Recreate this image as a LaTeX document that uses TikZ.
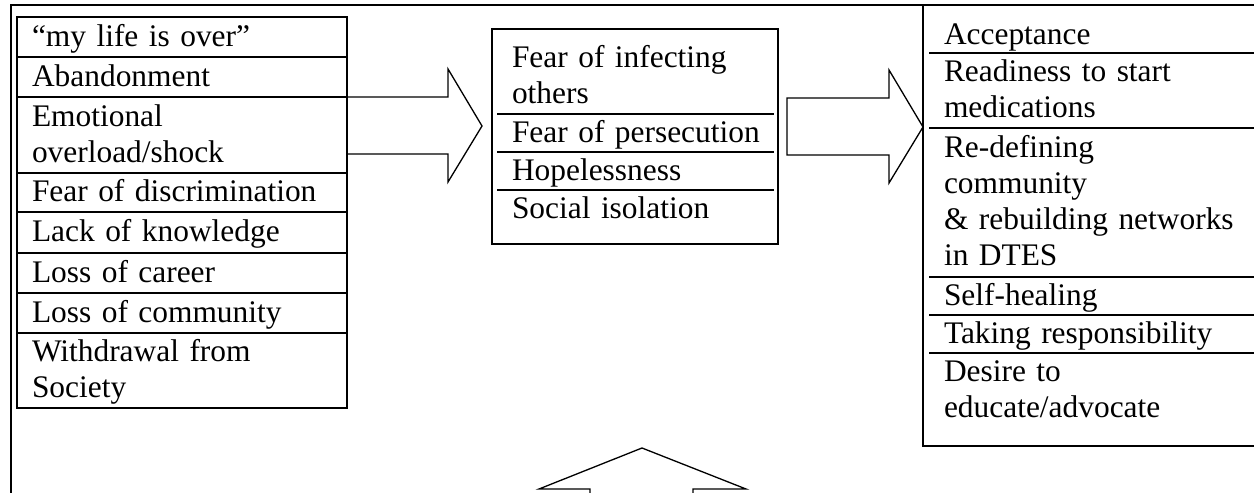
\documentclass[tikz,border=0pt]{standalone}
\usepackage{fontspec}
\setmainfont{Liberation Serif}
\usepackage{tikz}
\usetikzlibrary{calc}

\newcommand{\upx}{0.382pt}
\newcommand{\puntal}{\rule[-3.4pt]{0pt}{13.8pt}}

\begin{document}
\begin{tikzpicture}[x=0.382pt, y=-0.382pt,
    celda/.style={anchor=north west, outer sep=0pt, inner xsep=15*\upx, inner ysep=0pt,
      align=left, font=\fontsize{12}{13.8}\selectfont,
      execute at begin node=\puntal, execute at end node=\puntal},
    caja/.style={draw, line width=0.75pt, outer sep=0pt, anchor=north west},
    linea/.style={line width=0.7pt},
    flecha/.style={draw, line width=0.5pt}]
	\useasboundingbox (0,0) rectangle (1254,493);
	\clip (0,0) rectangle (1254,493);

	% Dibujar el marco
	\node[caja, minimum width=1400*\upx, minimum height=700*\upx] (marco) at (11,5) {};

	% Dibujar la columna izquierda
	\node[caja, celda, text width=300*\upx, minimum height=40*\upx] (l1) at (17,17) {``my life is over''};
	\node[caja, celda, text width=300*\upx, minimum height=40*\upx] (l2) at (17,57) {Abandonment};
	\node[caja, celda, text width=300*\upx, minimum height=76*\upx] (l3) at (17,97) {Emotional\\overload/shock};
	\node[caja, celda, text width=300*\upx, minimum height=39*\upx] (l4) at (17,173) {Fear of discrimination};
	\node[caja, celda, text width=300*\upx, minimum height=41*\upx] (l5) at (17,212) {Lack of knowledge};
	\node[caja, celda, text width=300*\upx, minimum height=40*\upx] (l6) at (17,253) {Loss of career};
	\node[caja, celda, text width=300*\upx, minimum height=40*\upx] (l7) at (17,293) {Loss of community};
	\node[caja, celda, text width=300*\upx, minimum height=75*\upx] (l8) at (17,333) {Withdrawal from\\Society};

	% Dibujar la caja del medio
	\node[caja, minimum width=286*\upx, minimum height=215*\upx] (medio) at (492,29) {};
	\node[celda, text width=262*\upx, minimum height=76*\upx] (m1) at (497,38) {Fear of infecting\\others};
	\node[celda, text width=262*\upx, minimum height=38*\upx] (m2) at (497,114) {Fear of persecution};
	\node[celda, text width=262*\upx, minimum height=38*\upx] (m3) at (497,152) {Hopelessness};
	\node[celda, text width=262*\upx, minimum height=38*\upx] (m4) at (497,190) {Social isolation};
	\foreach \n in {m2,m3,m4}
		\draw[linea] ($(medio.west |- \n.north)+(5,0)$) -- ($(medio.east |- \n.north)+(-4,0)$);

	% Dibujar la columna derecha
	\node[caja, minimum width=400*\upx, minimum height=441*\upx] (derecha) at (923,5) {};
	\node[celda, text width=330*\upx, minimum height=36*\upx] (r1) at (929,17) {Acceptance};
	\node[celda, text width=330*\upx, minimum height=75*\upx] (r2) at (929,53) {Readiness to start\\medications};
	\node[celda, text width=330*\upx, minimum height=149*\upx] (r3) at (929,128) {Re-defining\\community\\\& rebuilding networks\\in DTES};
	\node[celda, text width=330*\upx, minimum height=38*\upx] (r4) at (929,277) {Self-healing};
	\node[celda, text width=330*\upx, minimum height=38*\upx] (r5) at (929,315) {Taking responsibility};
	\node[celda, text width=330*\upx, minimum height=75*\upx] (r6) at (929,353) {Desire to\\educate/advocate};
	\foreach \n in {r2,r3,r4,r5,r6}
		\draw[linea] (\n.north west) -- (\n.north east);

	% Dibujar las flechas
	\draw[flecha] (l3.north east) -- ++(101,0) -- ++(0,-28) -- ++(34,57) -- ++(-34,56) -- ++(0,-28) -- ++(-101,0);
	\draw[flecha] (787,98) -- ++(102,0) -- ++(0,-28) -- ++(34,57) -- ++(-34,56) -- ++(0,-28) -- ++(-102,0) -- cycle;
	\draw[flecha] (590,500) -- (590,489) -- (539,489) -- (642,448) -- (746,489) -- (693,489) -- (693,500);

\end{tikzpicture}
\end{document}
